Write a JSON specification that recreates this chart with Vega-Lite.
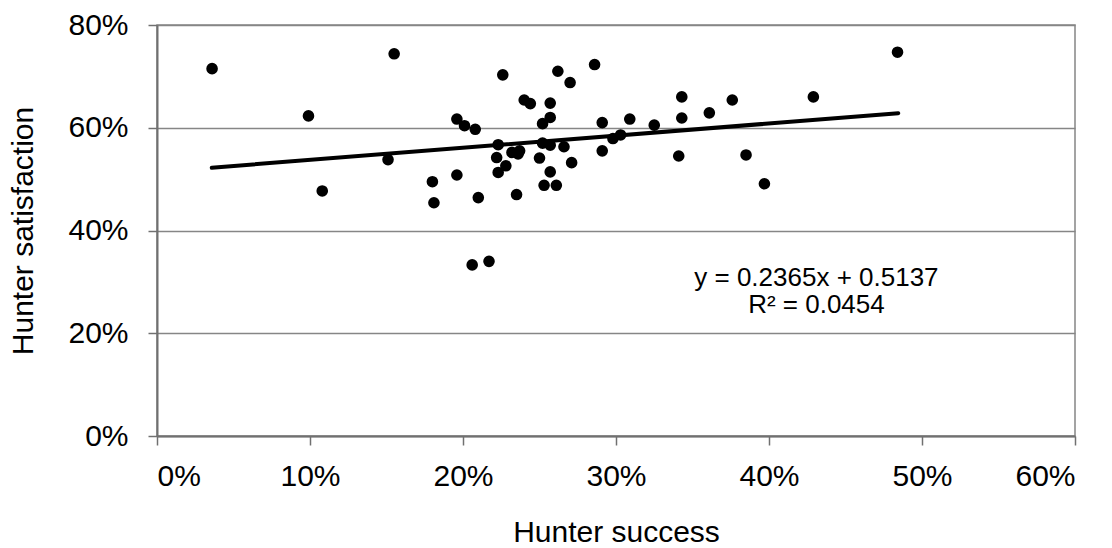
{
  "$schema": "https://vega.github.io/schema/vega-lite/v6.json",
  "width": 918,
  "height": 411,
  "autosize": {"type": "none"},
  "padding": {"left": 157, "top": 25, "right": 37, "bottom": 112},
  "background": "white",
  "config": {
    "font": "Liberation Sans",
    "view": {"stroke": "#858585", "strokeWidth": 1.5},
    "axis": {
      "domainColor": "#707070",
      "domainWidth": 2,
      "tickColor": "#707070",
      "tickWidth": 1.5,
      "tickSize": 9,
      "gridColor": "#868686",
      "gridWidth": 1.5,
      "labelColor": "black",
      "labelFont": "Liberation Sans",
      "labelFontSize": 30,
      "titleColor": "black",
      "titleFont": "Liberation Sans",
      "titleFontSize": 30,
      "titleFontWeight": "normal"
    }
  },
  "datasets": {
    "points": [
      {"success": 0.036, "satisfaction": 0.715},
      {"success": 0.155, "satisfaction": 0.744},
      {"success": 0.099, "satisfaction": 0.623},
      {"success": 0.108, "satisfaction": 0.477},
      {"success": 0.151, "satisfaction": 0.538},
      {"success": 0.180, "satisfaction": 0.495},
      {"success": 0.181, "satisfaction": 0.454},
      {"success": 0.196, "satisfaction": 0.617},
      {"success": 0.201, "satisfaction": 0.604},
      {"success": 0.208, "satisfaction": 0.597},
      {"success": 0.196, "satisfaction": 0.508},
      {"success": 0.210, "satisfaction": 0.464},
      {"success": 0.206, "satisfaction": 0.333},
      {"success": 0.217, "satisfaction": 0.340},
      {"success": 0.226, "satisfaction": 0.703},
      {"success": 0.223, "satisfaction": 0.567},
      {"success": 0.222, "satisfaction": 0.542},
      {"success": 0.223, "satisfaction": 0.513},
      {"success": 0.228, "satisfaction": 0.526},
      {"success": 0.235, "satisfaction": 0.470},
      {"success": 0.240, "satisfaction": 0.654},
      {"success": 0.244, "satisfaction": 0.647},
      {"success": 0.232, "satisfaction": 0.552},
      {"success": 0.237, "satisfaction": 0.555},
      {"success": 0.236, "satisfaction": 0.549},
      {"success": 0.257, "satisfaction": 0.648},
      {"success": 0.257, "satisfaction": 0.620},
      {"success": 0.252, "satisfaction": 0.608},
      {"success": 0.252, "satisfaction": 0.570},
      {"success": 0.257, "satisfaction": 0.566},
      {"success": 0.250, "satisfaction": 0.541},
      {"success": 0.257, "satisfaction": 0.514},
      {"success": 0.253, "satisfaction": 0.488},
      {"success": 0.261, "satisfaction": 0.488},
      {"success": 0.266, "satisfaction": 0.563},
      {"success": 0.271, "satisfaction": 0.532},
      {"success": 0.270, "satisfaction": 0.688},
      {"success": 0.262, "satisfaction": 0.710},
      {"success": 0.286, "satisfaction": 0.723},
      {"success": 0.291, "satisfaction": 0.610},
      {"success": 0.291, "satisfaction": 0.555},
      {"success": 0.298, "satisfaction": 0.579},
      {"success": 0.303, "satisfaction": 0.586},
      {"success": 0.309, "satisfaction": 0.617},
      {"success": 0.325, "satisfaction": 0.605},
      {"success": 0.343, "satisfaction": 0.660},
      {"success": 0.343, "satisfaction": 0.619},
      {"success": 0.341, "satisfaction": 0.545},
      {"success": 0.361, "satisfaction": 0.629},
      {"success": 0.376, "satisfaction": 0.654},
      {"success": 0.385, "satisfaction": 0.547},
      {"success": 0.397, "satisfaction": 0.491},
      {"success": 0.429, "satisfaction": 0.660},
      {"success": 0.484, "satisfaction": 0.747}
    ],
    "trend": [
      {"success": 0.0358, "satisfaction": 0.5222},
      {"success": 0.4845, "satisfaction": 0.6283}
    ],
    "equation": [
      {"success": 0.431, "satisfaction": 0.291, "label": "y = 0.2365x + 0.5137\nR² = 0.0454"}
    ]
  },
  "encoding": {
    "x": {
      "field": "success",
      "type": "quantitative",
      "scale": {"domain": [0, 0.6], "nice": false, "zero": false},
      "axis": {
        "title": "Hunter success",
        "values": [0, 0.1, 0.2, 0.3, 0.4, 0.5, 0.6],
        "format": ".0%",
        "grid": false,
        "labelPadding": 16,
        "titlePadding": 26
      }
    },
    "y": {
      "field": "satisfaction",
      "type": "quantitative",
      "scale": {"domain": [0, 0.8], "nice": false, "zero": false},
      "axis": {
        "title": "Hunter satisfaction",
        "values": [0, 0.2, 0.4, 0.6, 0.8],
        "format": ".0%",
        "grid": true,
        "labelPadding": 20,
        "titlePadding": 29
      }
    }
  },
  "layer": [
    {
      "data": {"name": "points"},
      "mark": {"type": "point", "filled": true, "color": "black", "opacity": 1, "size": 135, "shape": "circle"}
    },
    {
      "data": {"name": "trend"},
      "mark": {"type": "line", "color": "black", "strokeWidth": 4, "strokeCap": "round"}
    },
    {
      "data": {"name": "equation"},
      "mark": {"type": "text", "font": "Liberation Sans", "fontSize": 26, "lineHeight": 27, "lineBreak": "\n", "color": "black", "align": "center", "baseline": "alphabetic"},
      "encoding": {"text": {"field": "label"}}
    }
  ]
}
